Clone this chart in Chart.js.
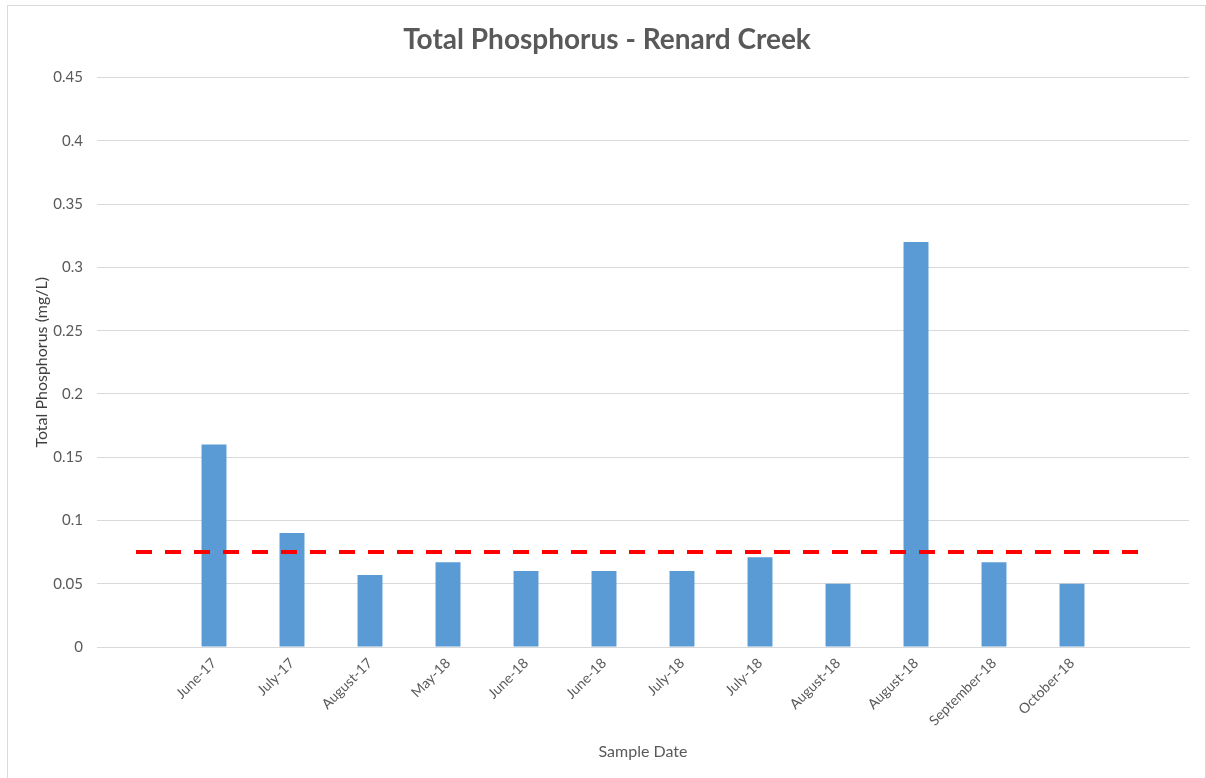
<!DOCTYPE html>
<html>
<head>
<meta charset="utf-8">
<script src="https://cdn.jsdelivr.net/npm/chart.js@4/dist/chart.umd.min.js"></script>
<style>
  html, body { margin: 0; padding: 0; background: #fff; }
  #wrap { position: relative; width: 1206px; height: 778px; }
  #frame { position: absolute; left: 7px; top: 5px; width: 1197px; height: 780px;
           border: 1px solid #d9d9d9; pointer-events: none; }
</style>
</head>
<body>
<div id="wrap">
  <canvas id="chart_tp" width="1206" height="778"></canvas>
  <div id="frame"></div>
</div>
<script>
// sample dates (blank slots at both ends, like the excel sheet)
var sampleDates = ['', 'June-17', 'July-17', 'August-17', 'May-18', 'June-18', 'June-18',
                   'July-18', 'July-18', 'August-18', 'August-18', 'September-18', 'October-18', ''];
// total phosphorus mg/L
var tpValues = [null, 0.16, 0.09, 0.057, 0.067, 0.06, 0.06, 0.06, 0.071, 0.05, 0.32, 0.067, 0.05, null];
// guideline value
var guideline = 0.075;
var yTicks = [0, 0.05, 0.1, 0.15, 0.2, 0.25, 0.3, 0.35, 0.4, 0.45];

var guideLine = [];
for (var i = 0; i < sampleDates.length; i++) {
  guideLine[i] = guideline;
}

var txtColor = '#595959';
var fontFam = 'Lato, "Open Sans", sans-serif';

function drawChart_tp(labels, values, line) {
  var ctx = document.getElementById('chart_tp').getContext('2d');
  var chart = new Chart(ctx, {
    data: {
      labels: labels,
      datasets: [{
        type: 'line',
        label: 'Guideline',
        data: line,
        borderColor: '#ff0000',
        borderWidth: 4,
        borderDash: [16, 13],
        pointRadius: 0,
        fill: false,
        order: 0
      },
      {
        type: 'bar',
        label: 'Total Phosphorus',
        data: values,
        backgroundColor: '#5b9bd5',
        borderWidth: 0,
        categoryPercentage: 1,
        barPercentage: 0.32,
        order: 1
      }]
    },
    options: {
      responsive: false,
      animation: false,
      layout: {
        padding: { left: 25, right: 17, top: 0, bottom: 0 }
      },
      plugins: {
        legend: { display: false },
        tooltip: { enabled: false },
        title: {
          display: true,
          text: 'Total Phosphorus - Renard Creek',
          color: txtColor,
          font: { family: fontFam, size: 28, weight: 'bold' },
          padding: { top: 23, bottom: 21 }
        }
      },
      scales: {
        x: {
          offset: true,
          grid: { display: false, drawTicks: false },
          border: { display: true, color: '#d9d9d9', width: 1 },
          ticks: {
            color: txtColor,
            font: { family: fontFam, size: 14 },
            minRotation: 45,
            maxRotation: 45,
            autoSkip: false,
            padding: 8
          },
          title: {
            display: true,
            text: 'Sample Date',
            color: txtColor,
            font: { family: fontFam, size: 16 },
            padding: { top: 0, bottom: 17 }
          },
          afterFit: function(scale) { scale.height = 131; }
        },
        y: {
          min: 0,
          max: 0.45,
          grid: { color: '#d9d9d9', lineWidth: 1, drawTicks: false },
          border: { display: false },
          afterBuildTicks: function(scale) {
            scale.ticks = yTicks.map(function(v) { return { value: v }; });
          },
          ticks: {
            color: txtColor,
            font: { family: fontFam, size: 15 },
            padding: 14,
            callback: function(v) { return String(+v.toFixed(2)); }
          },
          title: {
            display: true,
            text: 'Total Phosphorus (mg/L)',
            color: '#404040',
            font: { family: fontFam, size: 16 },
            padding: { top: 7, bottom: 0 }
          },
          afterFit: function(scale) { scale.width = 72; }
        }
      }
    }
  });
  return chart;
}

drawChart_tp(sampleDates, tpValues, guideLine);
</script>
</body>
</html>
